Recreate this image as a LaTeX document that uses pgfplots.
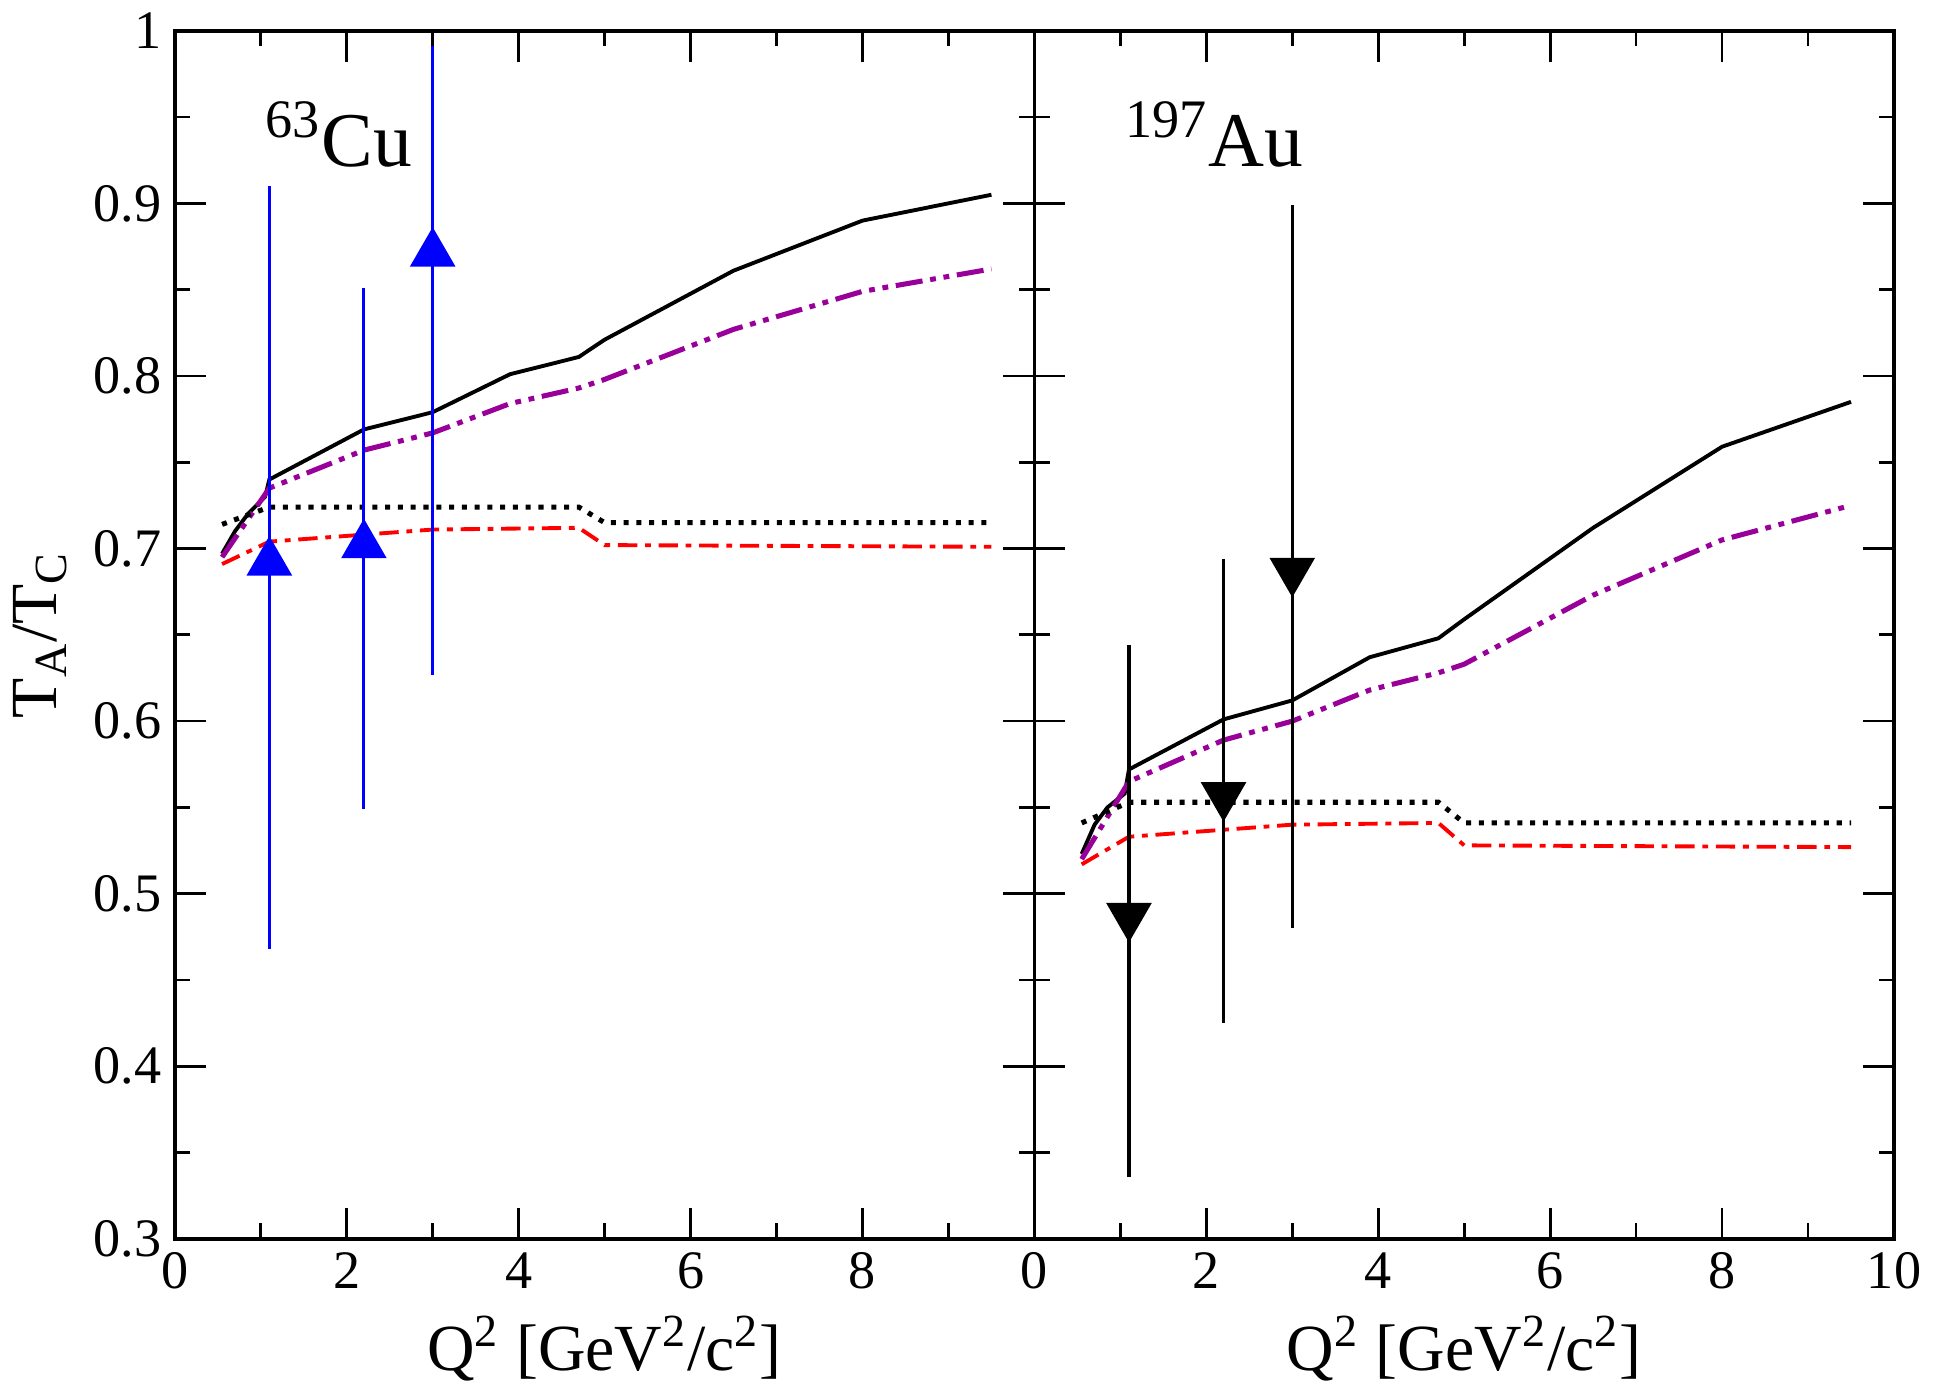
\documentclass[border=0pt]{standalone}
\usepackage{amsmath}
\usepackage{pgfplots}
\pgfplotsset{compat=1.18}
\usepackage{fontspec}
\setmainfont{Liberation Serif}
\begin{document}
\begin{tikzpicture}
\pgfplotsset{
 myax/.style={width=222pt,height=312pt,scale only axis,xmin=0,xmax=10,ymin=0.3,ymax=1,
 xtick={0,2,...,10},minor xtick={1,3,...,9},ytick={0.3,0.4,...,1.0},minor ytick={0.35,0.45,...,0.95},
 tick align=inside,xtick pos=both,ytick pos=both,major tick length=8pt,minor tick length=4pt,
 tick label style={font=\fontsize{14}{16}\selectfont},
 /pgf/number format/assume math mode=true,
 xlabel={\fontsize{17}{19}\selectfont Q$^{\text{2}}$ [GeV$^{\text{2}}$/c$^{\text{2}}$]},
 axis line style={line width=0.9pt}, every tick/.style={black,line width=0.7pt}}}
\begin{axis}[myax,name=L,xticklabels={0,2,4,6,8,},
 yticklabels={0.3,0.4,0.5,0.6,0.7,0.8,0.9,1},
 ylabel={\fontsize{17}{19}\selectfont T$_{\text{A}}$/T$_{\text{C}}$}]
\node[anchor=west,font=\fontsize{20}{22}\selectfont] at (axis cs:0.9,0.94) {$^{\text{63}}$Cu};
\addplot[black,line width=1pt] coordinates {(0.55,0.697)(0.7,0.71)(0.85,0.72)(1.05,0.73)(1.1,0.74)(2.2,0.769)(3,0.779)(3.9,0.801)(4.7,0.811)(5,0.821)(6.5,0.861)(8,0.89)(9.5,0.905)};
\addplot[violet!80!magenta,line width=1.3pt,dash pattern=on 7pt off 2pt on 1.5pt off 2pt on 1.5pt off 2pt] coordinates {(0.55,0.695)(1.1,0.735)(2.2,0.757)(3,0.767)(3.9,0.784)(4.7,0.793)(5,0.798)(6.5,0.827)(8,0.849)(9.5,0.862)};
\addplot[black,line width=1.3pt,dotted] coordinates {(0.55,0.714)(1.1,0.724)(4.7,0.724)(5,0.715)(9.5,0.715)};
\addplot[red,line width=1pt,dash pattern=on 5pt off 2pt on 1.5pt off 2pt] coordinates {(0.55,0.691)(1.1,0.704)(3,0.711)(4.7,0.712)(5,0.702)(9.5,0.701)};
\addplot[blue,line width=0.8pt,only marks,mark=triangle*,mark size=6pt,mark options={fill=blue,draw=blue},
 error bars/.cd,y dir=both,y explicit,error mark=none,error bar style={blue,line width=0.8pt}]
 coordinates {(1.1,0.692) += (0,0.218) -= (0,0.224) (2.2,0.702) += (0,0.149) -= (0,0.153) (3,0.871) += (0,0.12) -= (0,0.244)};
\end{axis}
\begin{axis}[myax,at={(L.south east)},anchor=south west,yticklabels={}]
\node[anchor=west,font=\fontsize{20}{22}\selectfont] at (axis cs:0.9,0.94) {$^{\text{197}}$Au};
\addplot[black,line width=1pt] coordinates {(0.55,0.523)(0.7,0.54)(0.85,0.55)(1.05,0.558)(1.1,0.572)(2.2,0.601)(3,0.612)(3.9,0.637)(4.7,0.648)(5,0.659)(6.5,0.712)(8,0.759)(9.5,0.785)};
\addplot[violet!80!magenta,line width=1.3pt,dash pattern=on 7pt off 2pt on 1.5pt off 2pt on 1.5pt off 2pt] coordinates {(0.55,0.52)(1.1,0.565)(2.2,0.589)(3,0.6)(3.9,0.618)(4.7,0.628)(5,0.633)(6.5,0.673)(8,0.705)(9.5,0.725)};
\addplot[black,line width=1.3pt,dotted] coordinates {(0.55,0.541)(1.1,0.553)(4.7,0.553)(5,0.541)(9.5,0.541)};
\addplot[red,line width=1pt,dash pattern=on 5pt off 2pt on 1.5pt off 2pt] coordinates {(0.55,0.517)(1.1,0.533)(3,0.54)(4.7,0.541)(5,0.528)(9.5,0.527)};
\addplot[black,line width=0.8pt,only marks,mark=triangle*,mark size=6pt,mark options={rotate=180,fill=black},
 error bars/.cd,y dir=both,y explicit,error mark=none,error bar style={black,line width=0.8pt}]
 coordinates {(1.1,0.487) += (0,0.157) -= (0,0.151) (2.2,0.557) += (0,0.137) -= (0,0.132) (3,0.687) += (0,0.212) -= (0,0.207)};
\end{axis}
\end{tikzpicture}
\end{document}
